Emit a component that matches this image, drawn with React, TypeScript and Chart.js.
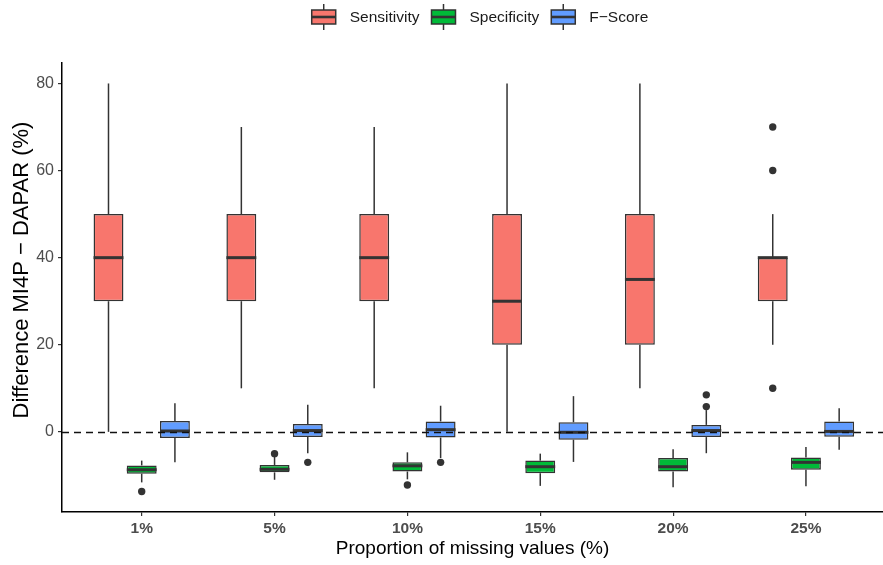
import React, { useEffect, useRef } from "react";
import { Chart, registerables } from "chart.js";

Chart.register(...registerables);

// ---------- data ----------
const categories = ["1%", "5%", "10%", "15%", "20%", "25%"];
const seriesNames = ["Sensitivity", "Specificity", "F\u2212Score"];
const seriesColors = ["#F8766D", "#00BA38", "#619CFF"];

// [lower whisker, Q1, median, Q3, upper whisker] per category
const sensitivity = [
  [0, 30, 40, 50, 80],
  [10, 30, 40, 50, 70],
  [10, 30, 40, 50, 70],
  [0, 20, 30, 50, 80],
  [10, 20, 35, 50, 80],
  [20, 30, 40, 40, 50],
];
const sensitivityOutliers = [[], [], [], [], [], [10, 60, 70]];

const specificity = [
  [-11.6, -9.6, -8.7, -7.7, -6.6],
  [-11.0, -9.3, -8.6, -7.6, -5.7],
  [-10.9, -9.1, -7.8, -7.0, -4.7],
  [-12.4, -9.5, -8.0, -6.6, -5.0],
  [-12.7, -9.1, -8.0, -6.0, -4.0],
  [-12.5, -8.7, -7.0, -5.9, -3.5],
];
const specificityOutliers = [[-13.7], [-5.0], [-12.2], [], [], []];

const fScore = [
  [-7.0, -1.4, 0.2, 2.5, 6.6],
  [-4.9, -1.2, 0.3, 1.8, 6.2],
  [-6.0, -1.3, 0.5, 2.4, 6.0],
  [-6.9, -1.8, -0.1, 2.2, 8.2],
  [-4.9, -1.2, 0.3, 1.6, 5.0],
  [-4.1, -1.1, 0.1, 2.4, 5.4],
];
const fScoreOutliers = [[], [-7.0], [-7.0], [], [5.8, 8.5], []];

const yTicks = [0, 20, 40, 60, 80];
const referenceLine = 0;
const yTitle = "Difference MI4P \u2212 DAPAR (%)";
const xTitle = "Proportion of missing values (%)";

// ---------- style ----------
const FONT = "'Liberation Sans', Arial, Helvetica, sans-serif";
const INK = "#333333";
const W = 883;
const H = 565;

const stats = [sensitivity, specificity, fScore];
const outliers = [sensitivityOutliers, specificityOutliers, fScoreOutliers];

function line(ctx: CanvasRenderingContext2D, x1: number, y1: number, x2: number, y2: number) {
  ctx.beginPath();
  ctx.moveTo(x1, y1);
  ctx.lineTo(x2, y2);
  ctx.stroke();
}

const boxplotPlugin = {
  id: "boxplotExtras",
  afterDatasetsDraw(chart: any) {
    const ctx: CanvasRenderingContext2D = chart.ctx;
    const ys = chart.scales.y;
    const area = chart.chartArea;
    ctx.save();
    ctx.beginPath();
    ctx.rect(area.left, area.top, area.right - area.left, area.bottom - area.top);
    ctx.clip();
    stats.forEach((series, i) => {
      const meta = chart.getDatasetMeta(i);
      series.forEach((v, j) => {
        const el: any = meta.data[j];
        if (!el) return;
        const cx = el.x;
        const w = el.width;
        ctx.strokeStyle = INK;
        ctx.lineWidth = 1.5;
        ctx.setLineDash([]);
        line(ctx, cx, ys.getPixelForValue(v[3]), cx, ys.getPixelForValue(v[4]));
        line(ctx, cx, ys.getPixelForValue(v[1]), cx, ys.getPixelForValue(v[0]));
        ctx.lineWidth = 3;
        const ym = ys.getPixelForValue(v[2]);
        line(ctx, cx - w / 2, ym, cx + w / 2, ym);
        ctx.fillStyle = INK;
        outliers[i][j].forEach((o) => {
          ctx.beginPath();
          ctx.arc(cx, ys.getPixelForValue(o), 3.7, 0, Math.PI * 2);
          ctx.fill();
        });
      });
    });
    // dashed reference line
    const y0 = Math.round(ys.getPixelForValue(referenceLine)) + 0.5;
    ctx.strokeStyle = "#111111";
    ctx.lineWidth = 1.6;
    ctx.setLineDash([7, 5]);
    line(ctx, area.left, y0, area.right, y0);
    ctx.restore();
  },
  afterDraw(chart: any) {
    const ctx: CanvasRenderingContext2D = chart.ctx;
    const ys = chart.scales.y;
    ctx.save();
    // y axis title
    ctx.font = `22px ${FONT}`;
    ctx.fillStyle = "#000000";
    ctx.textAlign = "center";
    ctx.textBaseline = "middle";
    ctx.translate(22, 270);
    ctx.rotate(-Math.PI / 2);
    ctx.fillText(yTitle, 0, 0);
    ctx.restore();

    // legend
    ctx.save();
    ctx.font = `15.5px ${FONT}`;
    const keyW = 24;
    const keyGap = 14;
    const itemGap = 12;
    const widths = seriesNames.map((n) => ctx.measureText(n).width);
    const total =
      widths.reduce((a, b) => a + b, 0) +
      seriesNames.length * (keyW + keyGap) +
      (seriesNames.length - 1) * itemGap;
    let x = 480 - total / 2;
    const cy = 17;
    seriesNames.forEach((n, i) => {
      const kx = x + keyW / 2;
      ctx.strokeStyle = INK;
      ctx.lineWidth = 1.5;
      line(ctx, kx, cy - 13, kx, cy + 13);
      ctx.fillStyle = seriesColors[i];
      ctx.fillRect(x, cy - 7, keyW, 14);
      ctx.strokeRect(x, cy - 7, keyW, 14);
      ctx.lineWidth = 2.6;
      line(ctx, x, cy, x + keyW, cy);
      ctx.fillStyle = "#1a1a1a";
      ctx.textAlign = "left";
      ctx.textBaseline = "middle";
      ctx.fillText(n, x + keyW + keyGap, cy + 1);
      x += keyW + keyGap + widths[i] + itemGap;
    });
    ctx.restore();
  },
};

export default function App() {
  const ref = useRef<HTMLCanvasElement | null>(null);

  useEffect(() => {
    const canvas = ref.current;
    if (!canvas) return;
    const chart = new Chart(canvas, {
      type: "bar",
      data: {
        datasets: stats.map((series, i) => ({
          label: seriesNames[i],
          data: series.map((v, j) => ({ x: j + 1, y: [v[1], v[3]] })),
          backgroundColor: seriesColors[i],
          borderColor: INK,
          borderWidth: 1.5,
          borderSkipped: false,
          categoryPercentage: 0.75,
          barPercentage: 0.9,
        })) as any,
      },
      options: {
        animation: false,
        responsive: false,
        events: [],
        layout: { padding: { top: 63, left: 0, right: 0, bottom: 0 } },
        plugins: {
          legend: { display: false },
          tooltip: { enabled: false },
        },
        scales: {
          x: {
            type: "linear",
            offset: false,
            min: 0.4,
            max: 6.58,
            bounds: "data",
            afterBuildTicks: (axis: any) => {
              axis.ticks = categories.map((_, i) => ({ value: i + 1 }));
            },
            afterFit: (axis: any) => {
              axis.height = 53;
            },
            grid: {
              display: true,
              offset: false,
              drawOnChartArea: false,
              drawTicks: true,
              tickLength: 4,
              color: INK,
              lineWidth: 1.2,
            },
            border: { display: true, color: "#000000", width: 1.5 },
            ticks: {
              autoSkip: false,
              maxRotation: 0,
              padding: 3,
              color: "#4D4D4D",
              font: { family: FONT, size: 15.5, weight: "bold" },
              callback: (v: any) => categories[Math.round(Number(v)) - 1] ?? "",
            },
            title: {
              display: true,
              text: xTitle,
              color: "#000000",
              font: { family: FONT, size: 19 },
              padding: { top: 0, bottom: 5 },
            },
          },
          y: {
            type: "linear",
            min: -18.4,
            max: 84.7,
            bounds: "data",
            afterBuildTicks: (axis: any) => {
              axis.ticks = yTicks.map((v) => ({ value: v }));
            },
            afterFit: (axis: any) => {
              axis.width = 62;
            },
            grid: {
              display: true,
              drawOnChartArea: false,
              drawTicks: true,
              tickLength: 4,
              color: INK,
              lineWidth: 1.2,
            },
            border: { display: true, color: "#000000", width: 1.5 },
            ticks: {
              padding: 4,
              color: "#4D4D4D",
              font: { family: FONT, size: 16 },
              callback: (v: any) => String(v),
            },
            title: { display: false },
          },
        },
      } as any,
      plugins: [boxplotPlugin],
    });
    return () => chart.destroy();
  }, []);

  return (
    <div style={{ position: "fixed", left: 0, top: 0, width: W, height: H, background: "#ffffff" }}>
      <canvas ref={ref} width={W} height={H} aria-label={`${yTitle} by ${xTitle}`} />
    </div>
  );
}
